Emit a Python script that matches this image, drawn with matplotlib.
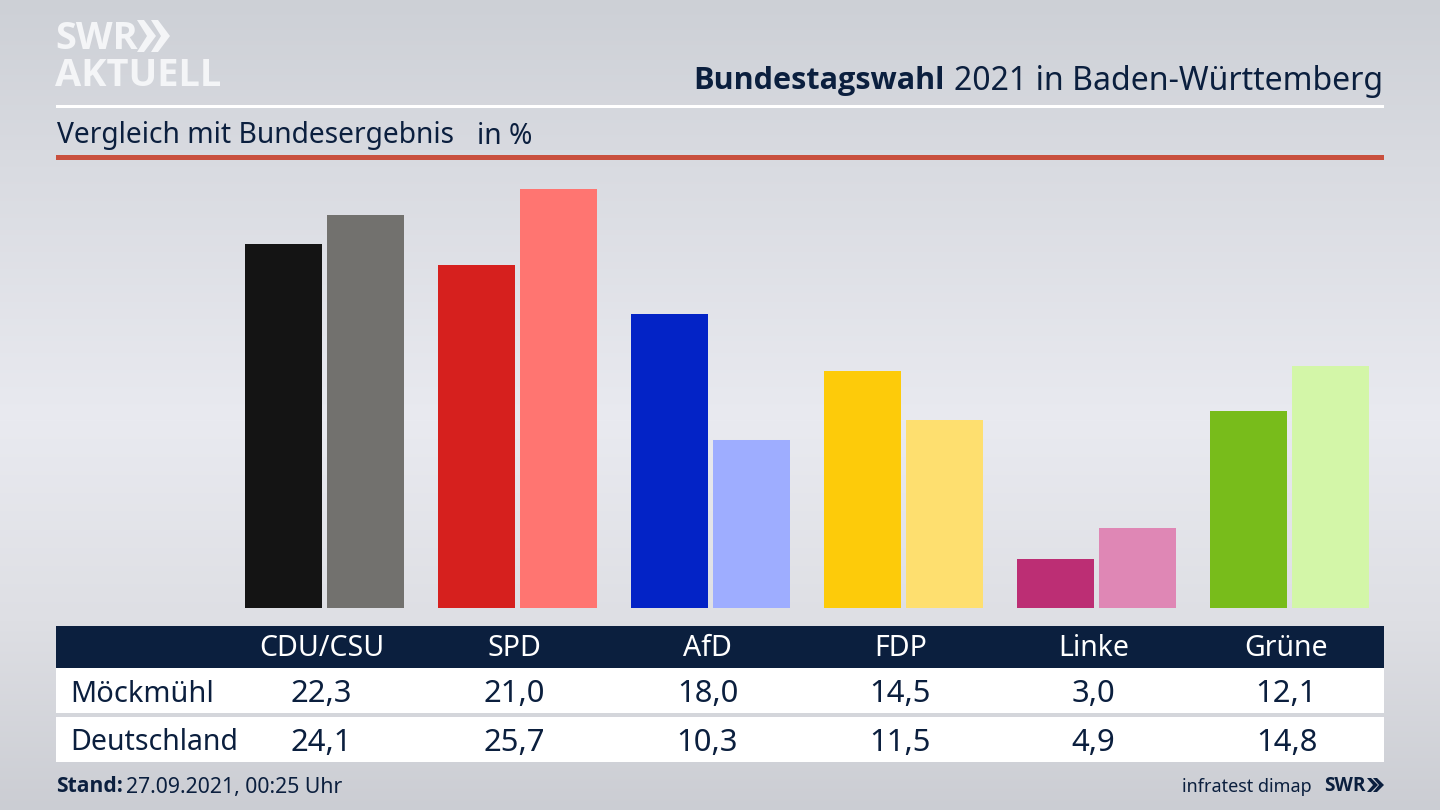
import matplotlib
matplotlib.use("Agg")
import matplotlib.pyplot as plt
import numpy as np
from matplotlib.patches import Polygon, Rectangle

plt.rcParams["font.family"] = ["Noto Sans", "DejaVu Sans"]
BOLD = ["Open Sans", "Lato", "DejaVu Sans"]

parties = ["CDU/CSU", "SPD", "AfD", "FDP", "Linke", "Grüne"]
moeckmuehl = [22.3, 21.0, 18.0, 14.5, 3.0, 12.1]
deutschland = [24.1, 25.7, 10.3, 11.5, 4.9, 14.8]
moeckmuehl_labels = ["22,3", "21,0", "18,0", "14,5", "3,0", "12,1"]
deutschland_labels = ["24,1", "25,7", "10,3", "11,5", "4,9", "14,8"]
dark_colors = ["#141414", "#d6201e", "#0323c6", "#fdcb0a", "#bc2e74", "#78bc1b"]
light_colors = ["#72716e", "#ff7571", "#9eadff", "#fedf6f", "#df87b5", "#d3f6a8"]

NAVY = "#0b1f3e"
W, H = 1440, 810

fig = plt.figure(figsize=(14.4, 8.1), dpi=100)

# background, grey at top and bottom and lighter in the middle
bg = fig.add_axes([0, 0, 1, 1])
stops_y = [0, 150, 420, 620, 810]
stops_v = [[205, 208, 214], [216, 218, 224], [233, 234, 240], [222, 223, 228], [203, 205, 211]]
ys = np.arange(H)
grad = np.stack([np.interp(ys, stops_y, [s[i] for s in stops_v]) for i in range(3)], axis=1)
grad = grad[:, None, :] / 255
bg.imshow(grad, aspect="auto", extent=[0, W, H, 0], zorder=0)
bg.set_xlim(0, W)
bg.set_ylim(H, 0)
bg.axis("off")


def px(size):
    return size * 0.72


# header
bg.add_patch(Rectangle((56, 105), 1328, 2.5, color="white", lw=0))
bg.add_patch(Rectangle((56, 155), 1328, 5, color="#c9503e", lw=0))
t = bg.text(1383, 81, "2021 in Baden-Württemberg", ha="right", va="center",
            fontsize=px(32), color=NAVY)
fig.canvas.draw()
bb = t.get_window_extent()
bg.text(bb.x0 - 9, 81, "Bundestagswahl", ha="right", va="center",
        fontsize=px(30.7), color=NAVY, fontweight="bold", family=BOLD)
bg.text(57, 135, "Vergleich mit Bundesergebnis", ha="left", va="center",
        fontsize=px(28.2), color=NAVY)
bg.text(477, 136, "in %", ha="left", va="center", fontsize=px(28.2), color=NAVY)

# logo
bg.text(55, 39, "SWR", ha="left", va="center", fontsize=px(38), color="#f4f5f7",
        fontweight="bold", family=BOLD)
for dx in (0, 14):
    bg.add_patch(Polygon([(137 + dx, 20), (144 + dx, 20), (156 + dx, 36), (144 + dx, 52),
                          (137 + dx, 52), (147 + dx, 36)], color="#f4f5f7", lw=0))
bg.text(55, 76, "AKTUELL", ha="left", va="center", fontsize=px(38), color="#f4f5f7",
        fontweight="bold", family=BOLD)

# bars, one category is 193 px wide, one percent is 16.32 px high
ax = fig.add_axes([228 / W, 1 - 608 / H, 1158 / W, 448 / H])
ax.patch.set_alpha(0)
x = np.arange(len(parties))
ax.bar(x - 41 / 193, moeckmuehl, width=77 / 193, color=dark_colors)
ax.bar(x + 41 / 193, deutschland, width=77 / 193, color=light_colors)
ax.set_xlim(-0.5, 5.5)
ax.set_ylim(0, 448 / 16.32)
ax.axis("off")

# table under the bars
bg.add_patch(Rectangle((56, 626), 1328, 42, color=NAVY, lw=0))
bg.add_patch(Rectangle((56, 668), 1328, 45, color="white", lw=0))
bg.add_patch(Rectangle((56, 717), 1328, 45, color="white", lw=0))
bg.text(70, 694, "Möckmühl", ha="left", va="center", fontsize=px(29), color=NAVY)
bg.text(70, 742, "Deutschland", ha="left", va="center", fontsize=px(28.5), color=NAVY)
for i, name in enumerate(parties):
    cx = 321.5 + 193 * i
    bg.text(cx, 649, name, ha="center", va="center", fontsize=px(28.5), color="white")
    bg.text(cx, 694, moeckmuehl_labels[i], ha="center", va="center", fontsize=px(31), color=NAVY)
    bg.text(cx, 743, deutschland_labels[i], ha="center", va="center", fontsize=px(31), color=NAVY)

# footer
bg.text(56, 787, "Stand:", ha="left", va="center", fontsize=px(21), color=NAVY,
        fontweight="bold", family=BOLD)
bg.text(126, 787, "27.09.2021, 00:25 Uhr", ha="left", va="center", fontsize=px(21.2), color=NAVY)
bg.text(1312, 787, "infratest dimap", ha="right", va="center", fontsize=px(18), color=NAVY)
bg.text(1324, 786, "SWR", ha="left", va="center", fontsize=px(19), color=NAVY,
        fontweight="bold", family=BOLD)
for dx in (0, 6):
    bg.add_patch(Polygon([(1367 + dx, 778), (1371 + dx, 778), (1378 + dx, 785), (1371 + dx, 792),
                          (1367 + dx, 792), (1373 + dx, 785)], color=NAVY, lw=0))

fig.savefig("out.png", dpi=100)
